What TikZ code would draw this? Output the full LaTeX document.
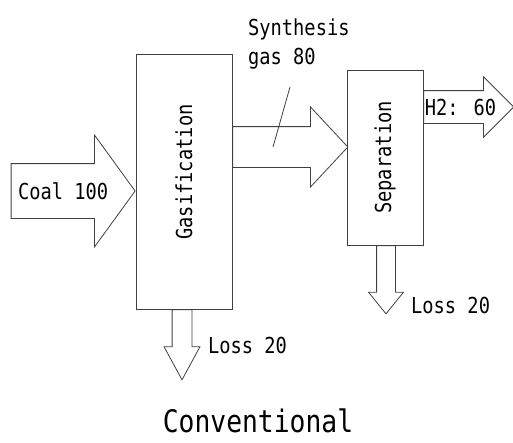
\documentclass[tikz,border=0pt]{standalone}
\usepackage{fontspec}
\newfontfamily\gothic[FakeStretch=0.85]{DejaVu Sans Mono}
\usetikzlibrary{positioning,shapes.arrows}
\tikzstyle{block} = [rectangle, draw=black!75, line width=0.8pt, inner sep=0pt,
                     font=\gothic\fontsize{22}{26}\selectfont]
\tikzstyle{flow} = [single arrow, draw=black!75, line width=0.8pt, inner xsep=0pt,
                    text height=16pt, text depth=0pt, font=\gothic\fontsize{22}{26}\selectfont]

\begin{document}
\begin{tikzpicture}[x=1pt, y=-1pt,
			lbl/.style={
					font=\gothic\fontsize{22}{29}\selectfont,
					inner sep=0pt,
					align=left,
				},
			void/.style={text height=0pt},
			drop/.style={flow, void, shape border rotate=270, inner ysep=0pt, anchor=tail}
		]
		\useasboundingbox (0,0) rectangle (513,442);

		% Gasification unit
		\node[block, minimum width=96pt, minimum height=255pt] (gas) at (184,181.5) {};
		\node[lbl, rotate=90] (gas-txt) at ([yshift=9.5pt]gas.center) {Gasification};

		% Separation unit
		\node[block, minimum width=76pt, minimum height=175pt] (sep) at (385,157.5) {\rotatebox{90}{Separation}};

		% Coal feed
		\node[flow, inner ysep=19pt, minimum height=124pt, single arrow head extend=28.5pt,
			single arrow tip angle=108, anchor=tip] (coal) at ([yshift=-9.5pt]gas.west) {Coal 100};

		% Synthesis gas
		\node[flow, void, inner ysep=20pt, minimum height=115pt, single arrow head extend=19.5pt,
			single arrow tip angle=94, anchor=tail] (syngas) at ([yshift=34.5pt]gas.east) {};
		\node[lbl, anchor=north west] (syngas-lbl) at (248,19) {Synthesis\\gas 80};
		\draw[draw=black!75, line width=0.8pt] (290,87) -- (273,147);

		% Hydrogen product
		\node[flow, inner ysep=8pt, minimum height=90pt, single arrow head extend=14pt,
			single arrow tip angle=90, anchor=tail] (h2) at ([yshift=50.5pt]sep.east) {H2: 60};

		% Losses
		\node[drop, inner xsep=9.5pt, minimum height=70pt, single arrow head extend=8pt,
			single arrow tip angle=57] (gas-loss) at ([xshift=-2pt]gas.south) {};
		\node[lbl, anchor=west] (gas-loss-lbl) at (208,345) {Loss 20};
		\node[drop, inner xsep=9pt, minimum height=68pt, single arrow head extend=8pt,
			single arrow tip angle=78] (sep-loss) at ([xshift=1pt]sep.south) {};
		\node[lbl, anchor=west] (sep-loss-lbl) at (411,305) {Loss 20};

		% Title
		\node[lbl, font=\gothic\fontsize{31}{36}\selectfont, anchor=base] (title) at (258,432) {Conventional};

	\end{tikzpicture}
\end{document}
